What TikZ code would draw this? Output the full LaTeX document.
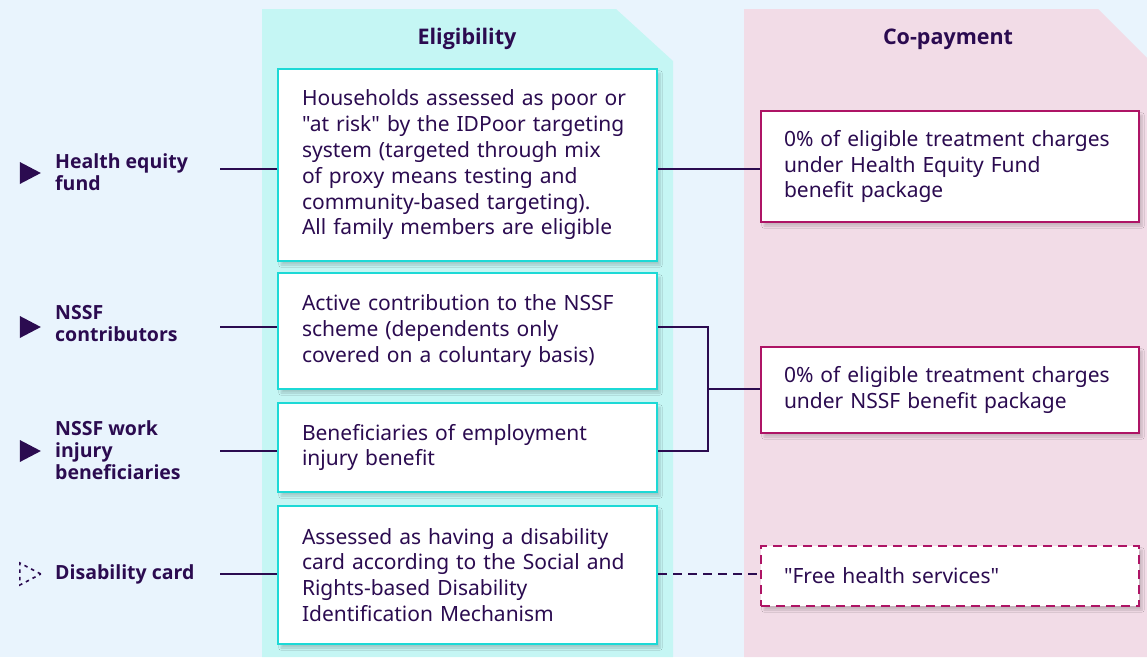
\documentclass[tikz,border=0pt]{standalone}
\usepackage{fontspec}
\setmainfont{Noto Sans}[Ligatures=TeXOff]
\newfontfamily\labelfont{Open Sans}
\usepackage{tikz}
\usetikzlibrary{shapes.geometric}
\usetikzlibrary{shadows.blur}
\definecolor{ink}{HTML}{2B0B50}
\definecolor{pagebg}{HTML}{E9F4FD}
\definecolor{tealcol}{HTML}{C5F6F4}
\definecolor{tealline}{HTML}{1CD9D6}
\definecolor{pinkcol}{HTML}{F2DCE7}
\definecolor{pinkline}{HTML}{AE1465}
\tikzset{
	elig box/.style={draw=tealline,line width=2pt,fill=white,anchor=north west,
		text width=331pt,inner xsep=24pt,inner ysep=0pt,align=left,text=ink,
		font=\fontsize{21}{25.8}\selectfont,
		blur shadow={shadow xshift=3pt,shadow yshift=-4pt,shadow opacity=18,shadow blur steps=8}},
	pay box/.style={elig box,draw=pinkline,text width=332pt,inner xsep=23pt},
	side label/.style={anchor=west,align=left,text=ink,inner sep=0pt,
		font=\labelfont\bfseries\fontsize{19.5}{22}\selectfont},
	head/.style={text=ink,font=\labelfont\bfseries\fontsize{21.5}{24}\selectfont},
	marker/.style={isosceles triangle,isosceles triangle stretches,inner sep=0pt,
		minimum width=22pt,minimum height=21pt},
	link/.style={draw=ink,line width=2pt}
}

\begin{document}
\begin{tikzpicture}[x=1pt,y=-1pt]
	\useasboundingbox (0,0) rectangle (1147,657);
	\fill[pagebg] (0,0) rectangle (1147,657);
	% columns
	\fill[tealcol] (262,657) -- (262,9) -- (616,9) -- (673,61) -- (673,657) -- cycle;
	\fill[pinkcol] (744,657) -- (744,9) -- (1098,9) -- (1147,58) -- (1147,657) -- cycle;
	\node[head] (h1) at (467,39) {Eligibility};
	\node[head] (h2) at (948,39) {Co-payment};
	% eligibility boxes
	\node[elig box,minimum height=192pt] (1) at (277,68) {Households assessed as poor or\\
		"at risk" by the IDPoor targeting\\system (targeted through mix\\of proxy means testing and\\
		community-based targeting).\\All family members are eligible};
	\node[elig box,minimum height=116pt] (2) at (277,272) {Active contribution to the NSSF\\
		scheme (dependents only\\covered on a coluntary basis)};
	\node[elig box,minimum height=89pt] (3) at (277,402) {Beneficiaries of employment\\injury benefit};
	\node[elig box,minimum height=138pt] (4) at (277,505) {Assessed as having a disability\\
		card according to the Social and\\Rights-based Disability\\Identification Mechanism};
	% co-payment boxes
	\node[pay box,minimum height=111pt] (5) at (760,110) {0\% of eligible treatment charges\\
		under Health Equity Fund\\benefit package};
	\node[pay box,minimum height=86pt] (6) at (760,346) {0\% of eligible treatment charges\\
		under NSSF benefit package};
	\node[pay box,dashed,dash pattern=on 9pt off 6pt,minimum height=60pt] (7) at (760,545) {"Free health services"};
	% side labels
	\node[marker,fill=ink] (m1) at (26.5,173) {};
	\node[side label] (l1) at (55,172) {Health equity\\fund};
	\node[marker,fill=ink] (m2) at (26.5,327) {};
	\node[side label] (l2) at (55,324) {NSSF\\contributors};
	\node[marker,fill=ink] (m3) at (26.5,451) {};
	\node[side label] (l3) at (55,450) {NSSF work\\injury\\beneficiaries};
	\node[marker,draw=ink,line width=1.6pt,dash pattern=on 3.5pt off 4pt] (m4) at (26.5,574) {};
	\node[side label] (l4) at (55,574) {Disability card};
	% connectors
	\coordinate (c1) at (220,169);
	\coordinate (c2) at (220,327);
	\coordinate (c3) at (220,451);
	\coordinate (c4) at (220,574);
	\coordinate (j) at (708,389);
	\draw[link] (c1) -- (1.west |- c1);
	\draw[link] (c2) -- (2.west |- c2);
	\draw[link] (c3) -- (3.west |- c3);
	\draw[link] (c4) -- (4.west |- c4);
	\draw[link] (1.east |- c1) -- (5.west |- c1);
	\draw[link] (2.east |- c2) -| (j |- c3) -- (3.east |- c3);
	\draw[link] (j) -- (6.west |- j);
	\draw[link,dash pattern=on 9pt off 6pt] (4.east |- c4) -- (7.west |- c4);
\end{tikzpicture}
\end{document}
